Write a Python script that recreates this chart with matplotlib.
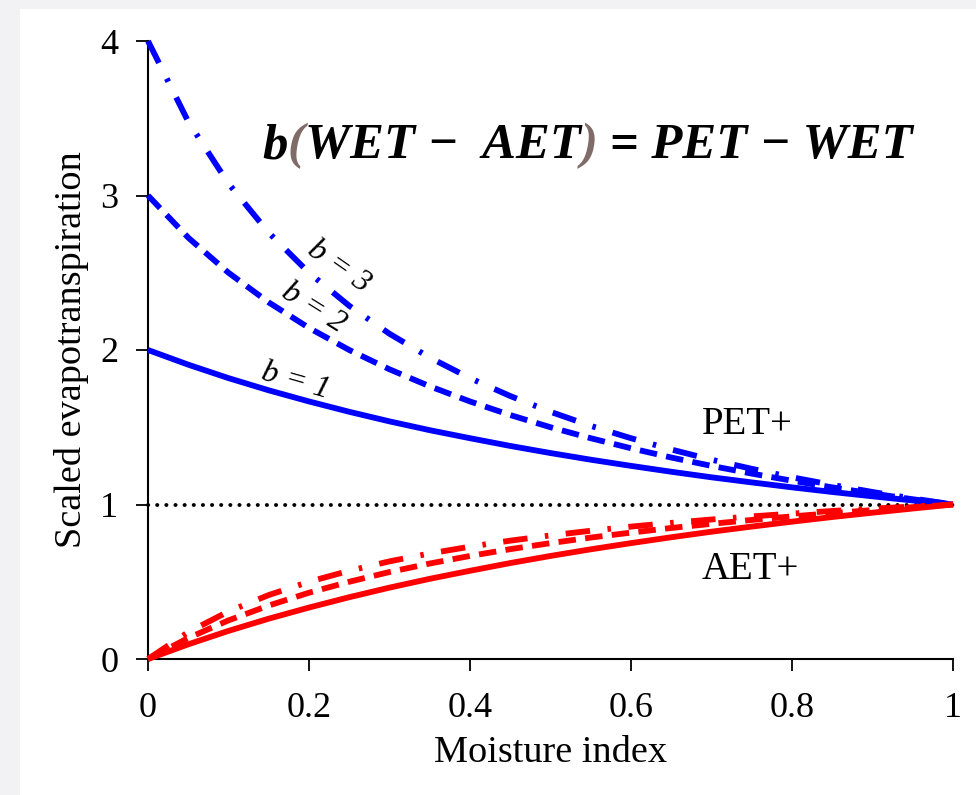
import matplotlib
matplotlib.use("Agg")
import matplotlib.pyplot as plt
from matplotlib.patches import Rectangle

plt.rcParams['font.family'] = ['Liberation Serif', 'DejaVu Serif']

# values
moisture = [0.0, 0.05, 0.1, 0.15, 0.2, 0.25, 0.3, 0.35, 0.4, 0.45, 0.5,
            0.55, 0.6, 0.65, 0.7, 0.75, 0.8, 0.85, 0.9, 0.95, 1.0]

pet_b1 = [2.00, 1.905, 1.818, 1.739, 1.667, 1.600, 1.538, 1.481, 1.429, 1.379, 1.333,
          1.290, 1.250, 1.212, 1.176, 1.143, 1.111, 1.081, 1.053, 1.026, 1.000]
pet_b2 = [3.00, 2.727, 2.500, 2.308, 2.143, 2.000, 1.875, 1.765, 1.667, 1.579, 1.500,
          1.429, 1.364, 1.304, 1.250, 1.200, 1.154, 1.111, 1.071, 1.034, 1.000]
pet_b3 = [4.00, 3.478, 3.077, 2.759, 2.500, 2.286, 2.105, 1.951, 1.818, 1.702, 1.600,
          1.509, 1.429, 1.356, 1.290, 1.231, 1.176, 1.127, 1.081, 1.039, 1.000]

aet_b1 = [0.0, 0.095, 0.182, 0.261, 0.333, 0.400, 0.462, 0.519, 0.571, 0.621, 0.667,
          0.710, 0.750, 0.788, 0.824, 0.857, 0.889, 0.919, 0.947, 0.974, 1.000]
aet_b2 = [0.0, 0.136, 0.250, 0.346, 0.429, 0.500, 0.563, 0.618, 0.667, 0.711, 0.750,
          0.786, 0.818, 0.848, 0.875, 0.900, 0.923, 0.944, 0.964, 0.983, 1.000]
aet_b3 = [0.0, 0.174, 0.308, 0.414, 0.500, 0.571, 0.632, 0.683, 0.727, 0.766, 0.800,
          0.830, 0.857, 0.881, 0.903, 0.923, 0.941, 0.958, 0.973, 0.987, 1.000]

x_ticks = [0, 0.2, 0.4, 0.6, 0.8, 1]
x_ticklabels = ['0', '0.2', '0.4', '0.6', '0.8', '1']
y_ticks = [0, 1, 2, 3, 4]

fig = plt.figure(figsize=(9.76, 7.95), dpi=100)
fig.patch.set_facecolor('white')
# light grey frame on the left and top of the screenshot
fig.patches.append(Rectangle((0, 0), 20 / 976, 1, transform=fig.transFigure,
                             facecolor='#f2f2f4', edgecolor='none', zorder=0))
fig.patches.append(Rectangle((0, 1 - 9 / 795), 1, 9 / 795, transform=fig.transFigure,
                             facecolor='#f2f2f4', edgecolor='none', zorder=0))

ax = fig.add_axes([148 / 976, 1 - 659 / 795, 805 / 976, 618 / 795])

lw = 4.2
dashed = (0, (3.0, 1.6))
dashdot = (0, (4.2, 3.0, 0.6, 3.0))

ax.plot(moisture, [1] * len(moisture), color='black', lw=2.8,
        linestyle=(0, (0.05, 2.3)), dash_capstyle='round', clip_on=False, zorder=2)

ax.plot(moisture, pet_b1, color='#0000ff', lw=lw, solid_capstyle='butt', clip_on=False, zorder=3)
ax.plot(moisture, pet_b2, color='#0000ff', lw=lw, linestyle=dashed, clip_on=False, zorder=3)
ax.plot(moisture, pet_b3, color='#0000ff', lw=lw, linestyle=dashdot, clip_on=False, zorder=3)

ax.plot(moisture, aet_b1, color='#ff0000', lw=lw, solid_capstyle='butt', clip_on=False, zorder=3)
ax.plot(moisture, aet_b2, color='#ff0000', lw=lw, linestyle=dashed, clip_on=False, zorder=3)
ax.plot(moisture, aet_b3, color='#ff0000', lw=lw, linestyle=dashdot, clip_on=False, zorder=3)

ax.set_xlim(0, 1)
ax.set_ylim(0, 4)
ax.set_xticks(x_ticks)
ax.set_xticklabels(x_ticklabels)
ax.set_yticks(y_ticks)
ax.tick_params(axis='both', direction='out', length=8.5, width=1.3, labelsize=26)
ax.tick_params(axis='x', pad=15)
ax.tick_params(axis='y', pad=13)

for side in ['top', 'right']:
    ax.spines[side].set_visible(False)
for side in ['left', 'bottom']:
    ax.spines[side].set_linewidth(1.5)

ax.set_xlabel('Moisture index', fontsize=27.5, labelpad=8)
ax.set_ylabel('Scaled evapotranspiration', fontsize=27.5, labelpad=8)

# curve labels
ax.text(0.183, 1.80, 'b = 1', fontsize=23, style='italic', rotation=-16,
        ha='center', va='center')
ax.text(0.205, 2.27, 'b = 2', fontsize=23, style='italic', rotation=-32,
        ha='center', va='center')
ax.text(0.237, 2.54, 'b = 3', fontsize=23, style='italic', rotation=-35,
        ha='center', va='center')

ax.text(0.745, 1.52, 'PET+', fontsize=28, ha='center', va='center')
ax.text(0.748, 0.58, 'AET+', fontsize=28, ha='center', va='center')

# equation, parentheses in a brownish grey
pieces = [('b', 'black'), ('(', '#7f6b67'), ('WET \u2212  AET', 'black'),
          (')', '#7f6b67'), (' = PET \u2212 WET', 'black')]
eq_style = dict(fontsize=36.5, fontweight='bold', style='italic')
prev = ax.text(0.142, 3.17, pieces[0][0], color=pieces[0][1], ha='left', va='bottom', **eq_style)
for s, c in pieces[1:]:
    prev = ax.annotate(s, xy=(1, 0), xycoords=prev, color=c, ha='left', va='bottom', **eq_style)

fig.savefig('out.png', dpi=100)
